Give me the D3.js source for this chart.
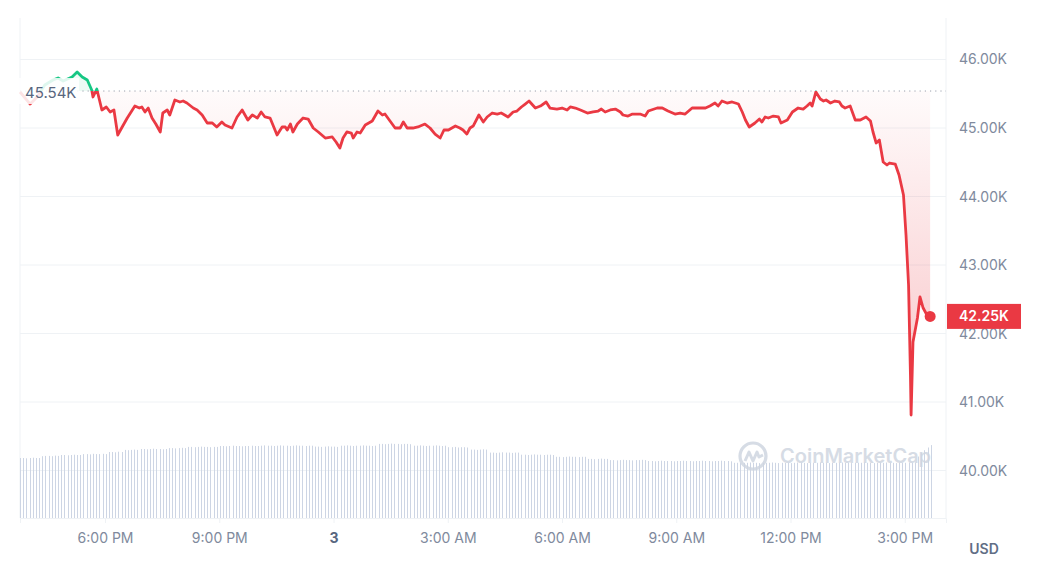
<!DOCTYPE html>
<html>
<head>
<meta charset="utf-8">
<script src="https://cdn.jsdelivr.net/npm/d3@7/dist/d3.min.js"></script>
<style>
  body { margin: 0; background: #fff; }
  svg text { font-family: Inter, "Noto Sans", sans-serif; }
</style>
</head>
<body>
<div id="my_dataviz"></div>
<script>
// price samples: minutes after 3:46 PM (Jan 2) and price in USD
var priceMinutes = [
  0, 16, 27, 39, 52, 60, 68, 82, 90, 98,
  106, 113, 115, 121, 129, 136, 142, 148, 154, 161,
  169, 177, 181, 188, 192, 197, 202, 208, 214, 221,
  225, 232, 236, 244, 252, 257, 263, 273, 279, 287,
  295, 303, 310, 318, 323, 334, 342, 350, 359, 366,
  374, 380, 386, 394, 405, 413, 418, 421, 426, 430,
  437, 446, 454, 462, 470, 481, 492, 498, 504, 509,
  515, 522, 525, 531, 536, 544, 555, 564, 571, 575,
  583, 591, 599, 604, 610, 619, 627, 638, 646, 654,
  662, 668, 675, 686, 693, 698, 704, 709, 714, 723,
  730, 736, 744, 752, 758, 761, 769, 777, 783, 790,
  796, 802, 812, 820, 829, 835, 846, 854, 862, 867,
  875, 883, 894, 903, 911, 916, 922, 930, 938, 946,
  950, 958, 965, 977, 985, 990, 1004, 1012, 1021, 1032,
  1040, 1048, 1059, 1069, 1080, 1087, 1095, 1100, 1106, 1114,
  1122, 1132, 1138, 1143, 1149, 1158, 1165, 1169, 1174, 1179,
  1187, 1195, 1199, 1209, 1217, 1226, 1234, 1240, 1245, 1248,
  1254, 1261, 1266, 1270, 1277, 1284, 1291, 1295, 1300, 1308,
  1316, 1324, 1333, 1340, 1344, 1349, 1354, 1360, 1366, 1370,
  1379, 1385, 1392, 1396, 1400, 1403, 1404, 1407, 1414, 1418,
  1423, 1429, 1434
];
var prices = [
  45526, 45350, 45453, 45628, 45701, 45730, 45686, 45745, 45818, 45745,
  45701, 45555, 45453, 45569, 45263, 45307, 45234, 45263, 44898, 45015,
  45146, 45263, 45321, 45292, 45307, 45234, 45292, 45146, 45058, 44942,
  45219, 45263, 45190, 45409, 45380, 45394, 45365, 45292, 45263, 45190,
  45073, 45073, 45015, 45088, 45044, 45000, 45161, 45263, 45117, 45190,
  45146, 45234, 45161, 45146, 44898, 45015, 45015, 44971, 45058, 44942,
  45058, 45146, 45131, 45000, 44942, 44854, 44869, 44796, 44708, 44854,
  44942, 44927, 44854, 44942, 44927, 45044, 45102, 45248, 45190, 45204,
  45102, 45000, 45000, 45088, 45000, 45000, 45015, 45058, 45000, 44912,
  44854, 44971, 44971, 45029, 45000, 44971, 44912, 45000, 45029, 45190,
  45088, 45161, 45219, 45204, 45219, 45204, 45161, 45234, 45248, 45307,
  45350, 45394, 45292, 45321, 45380, 45292, 45277, 45292, 45263, 45307,
  45292, 45263, 45219, 45234, 45248, 45277, 45234, 45263, 45277, 45234,
  45190, 45175, 45204, 45204, 45175, 45248, 45292, 45292, 45248, 45204,
  45219, 45204, 45292, 45292, 45292, 45321, 45365, 45321, 45394, 45365,
  45380, 45350, 45234, 45117, 45015, 45073, 45131, 45088, 45161, 45146,
  45175, 45161, 45073, 45117, 45234, 45292, 45277, 45321, 45365, 45321,
  45526, 45423, 45394, 45409, 45365, 45394, 45380, 45321, 45292, 45321,
  45117, 45117, 45161, 45102, 44942, 44781, 44825, 44504, 44460, 44489,
  44474, 44314, 44022, 43438, 42708, 41394, 40810, 41876, 42226, 42533,
  42372, 42270, 42250
];
// 24h volume (billion USD), one bar every 5 minutes from 3:46 PM
var volumes = [
  20.0, 20.0, 19.9, 20.0, 20.1, 20.0, 20.0, 20.6, 20.7, 20.7, 20.6, 20.8,
  20.7, 21.0, 21.0, 20.9, 21.0, 21.1, 21.0, 21.0, 21.3, 21.3, 21.2, 21.4,
  21.3, 21.3, 21.4, 21.3, 22.0, 22.0, 21.9, 22.1, 22.0, 22.7, 22.6, 22.7,
  22.8, 22.7, 23.0, 23.0, 22.9, 23.0, 23.1, 23.0, 23.0, 22.9, 23.0, 23.3,
  23.3, 23.2, 23.3, 23.4, 23.3, 23.7, 23.7, 23.6, 23.7, 23.8, 23.7, 23.7,
  23.6, 23.7, 23.7, 24.0, 24.0, 23.9, 24.0, 24.1, 24.0, 24.0, 23.9, 24.0,
  24.0, 24.1, 24.0, 24.0, 24.1, 24.2, 24.1, 24.1, 24.0, 24.1, 24.2, 24.1,
  24.1, 24.0, 24.1, 24.2, 24.1, 24.1, 24.0, 24.1, 24.1, 23.8, 23.8, 23.7,
  23.8, 23.9, 23.8, 23.8, 23.7, 24.1, 24.1, 24.2, 24.1, 24.0, 24.1, 24.1,
  24.2, 24.1, 24.1, 24.0, 24.1, 24.7, 24.7, 24.6, 24.7, 24.8, 24.7, 24.7,
  24.6, 24.7, 24.7, 24.6, 24.1, 24.1, 24.2, 24.1, 24.0, 24.1, 24.1, 24.2,
  24.1, 24.0, 24.1, 23.6, 23.6, 23.7, 23.5, 23.6, 23.6, 23.5, 22.8, 22.8,
  22.7, 22.8, 22.9, 22.8, 21.8, 21.8, 21.7, 21.8, 21.9, 21.8, 21.8, 21.7,
  21.8, 21.8, 21.1, 21.1, 21.0, 21.1, 21.2, 21.1, 21.1, 21.0, 21.1, 21.1,
  21.0, 20.4, 20.4, 20.3, 20.4, 20.5, 20.4, 20.4, 20.3, 20.4, 20.4, 19.7,
  19.7, 19.6, 19.7, 19.8, 19.7, 19.7, 19.3, 19.3, 19.2, 19.3, 19.4, 19.3,
  19.3, 19.2, 19.3, 19.3, 19.4, 19.3, 19.0, 19.0, 18.9, 19.0, 19.1, 19.0,
  19.0, 19.0, 18.9, 19.0, 19.0, 19.1, 19.0, 19.0, 18.9, 19.0, 19.0, 19.1,
  19.0, 19.0, 18.9, 19.0, 19.0, 19.1, 19.0, 19.0, 18.9, 18.4, 18.4, 18.3,
  18.4, 18.4, 18.5, 18.4, 18.4, 18.3, 18.4, 18.4, 18.4, 18.5, 18.4, 18.3,
  18.4, 18.4, 18.4, 18.3, 18.4, 18.5, 18.4, 18.4, 18.3, 18.4, 18.4, 18.4,
  18.5, 18.4, 18.4, 18.3, 18.4, 18.4, 18.4, 18.5, 18.4, 18.4, 18.3, 18.4,
  18.4, 18.4, 18.5, 18.4, 18.4, 18.3, 18.4, 18.4, 18.4, 18.5, 18.4, 18.4,
  18.3, 18.4, 18.4, 18.4, 18.5, 18.4, 18.4, 20.5, 21.7, 22.6, 23.5, 24.3
];
var yTicks = [40000, 41000, 42000, 43000, 44000, 45000, 46000];
var openPrice = 45540;
var lastPrice = 42250;

var startTime = new Date(2024, 0, 2, 15, 46);
var endTime = new Date(2024, 0, 3, 16, 5);

var width = 1038, height = 570;
var plot = { left: 20, right: 946, top: 18, bottom: 518 };

var red = "#ea3943", green = "#16c784", gridColor = "#eff2f5", labelColor = "#808a9d";

var svg = d3.select("#my_dataviz")
  .append("svg")
  .attr("width", width)
  .attr("height", height);

var x = d3.scaleTime()
  .domain([startTime, endTime])
  .range([plot.left, plot.right]);

var y = d3.scaleLinear()
  .domain([39307, 46606])
  .range([plot.bottom, plot.top]);

// volume uses its own scale on the bottom band
var yVol = d3.scaleLinear()
  .domain([0, 40])
  .range([plot.bottom, plot.bottom - 120]);

var data = priceMinutes.map(function (m, i) {
  return { date: d3.timeMinute.offset(startTime, m), value: prices[i] };
});
var volData = volumes.map(function (v, i) {
  return { date: d3.timeMinute.offset(startTime, i * 5), value: v };
});

var yBase = y(openPrice);

// gradients
var defs = svg.append("defs");
var strokeGrad = defs.append("linearGradient")
  .attr("id", "strokeGrad")
  .attr("gradientUnits", "userSpaceOnUse")
  .attr("x1", 0).attr("x2", 0)
  .attr("y1", 0).attr("y2", height);
strokeGrad.append("stop").attr("offset", yBase / height).attr("stop-color", green);
strokeGrad.append("stop").attr("offset", yBase / height).attr("stop-color", red);

var redFill = defs.append("linearGradient")
  .attr("id", "redFill")
  .attr("gradientUnits", "userSpaceOnUse")
  .attr("x1", 0).attr("x2", 0)
  .attr("y1", yBase).attr("y2", y(d3.min(prices)));
redFill.append("stop").attr("offset", 0).attr("stop-color", red).attr("stop-opacity", 0.02);
redFill.append("stop").attr("offset", 1).attr("stop-color", red).attr("stop-opacity", 0.3);

defs.append("clipPath").attr("id", "clipBelow")
  .append("rect")
  .attr("x", plot.left).attr("y", yBase)
  .attr("width", plot.right - plot.left).attr("height", plot.bottom - yBase);
defs.append("clipPath").attr("id", "clipAbove")
  .append("rect")
  .attr("x", plot.left).attr("y", plot.top)
  .attr("width", plot.right - plot.left).attr("height", yBase - plot.top);

// horizontal grid lines
svg.append("g")
  .selectAll("line")
  .data(yTicks)
  .enter()
  .append("line")
  .attr("x1", plot.left)
  .attr("x2", plot.right)
  .attr("y1", function (d) { return y(d) })
  .attr("y2", function (d) { return y(d) })
  .attr("stroke", gridColor)
  .attr("stroke-width", 1);

// frame lines
svg.append("line")
  .attr("x1", plot.left).attr("x2", plot.left)
  .attr("y1", plot.top).attr("y2", plot.bottom)
  .attr("stroke", gridColor);
svg.append("line")
  .attr("x1", plot.right).attr("x2", plot.right)
  .attr("y1", plot.top).attr("y2", plot.bottom)
  .attr("stroke", gridColor);

// volume bars
svg.append("g")
  .selectAll("line")
  .data(volData)
  .enter()
  .append("line")
  .attr("x1", function (d) { return Math.round(x(d.date)) + 0.5 })
  .attr("x2", function (d) { return Math.round(x(d.date)) + 0.5 })
  .attr("y1", plot.bottom)
  .attr("y2", function (d) { return yVol(d.value) })
  .attr("stroke", "#cdd5e4")
  .attr("stroke-width", 1);

// watermark
var wm = svg.append("g")
  .attr("transform", "translate(753,456)")
  .attr("opacity", 0.85);
wm.append("circle")
  .attr("r", 13)
  .attr("fill", "none")
  .attr("stroke", "#cfd6e1")
  .attr("stroke-width", 3.2);
wm.append("path")
  .attr("d", "M-8,5 L-4,-4 L0,5 L4,-4 L6,1 L10,-1")
  .attr("fill", "none")
  .attr("stroke", "#cfd6e1")
  .attr("stroke-width", 3)
  .attr("stroke-linejoin", "round");
wm.append("text")
  .attr("x", 27)
  .attr("y", 7)
  .attr("fill", "#cfd6e1")
  .style("font-size", "20px")
  .style("font-weight", 600)
  .text("CoinMarketCap");

// area between price and open price
var area = d3.area()
  .x(function (d) { return x(d.date) })
  .y0(yBase)
  .y1(function (d) { return y(d.value) });
svg.append("path")
  .attr("d", area(data))
  .attr("clip-path", "url(#clipBelow)")
  .attr("fill", "url(#redFill)");
svg.append("path")
  .attr("d", area(data))
  .attr("clip-path", "url(#clipAbove)")
  .attr("fill", green)
  .attr("fill-opacity", 0.08);

// dotted open price line
svg.append("line")
  .attr("x1", plot.left)
  .attr("x2", plot.right)
  .attr("y1", yBase)
  .attr("y2", yBase)
  .attr("stroke", "#9aa1ad")
  .attr("stroke-width", 1)
  .attr("stroke-dasharray", "1.2,4");

// price line
var line = d3.line()
  .x(function (d) { return x(d.date) })
  .y(function (d) { return y(d.value) });
svg.append("path")
  .attr("d", line(data))
  .attr("fill", "none")
  .attr("stroke", "url(#strokeGrad)")
  .attr("stroke-width", 2.8)
  .attr("stroke-linejoin", "round");

// open price label (covers start of line)
svg.append("rect")
  .attr("x", plot.left - 3)
  .attr("y", yBase - 13)
  .attr("width", 62)
  .attr("height", 26)
  .attr("fill", "#fff")
  .attr("fill-opacity", 0.86);
svg.append("text")
  .attr("x", plot.left + 5)
  .attr("y", yBase + 2)
  .attr("dy", "0.35em")
  .attr("fill", "#58667e")
  .style("font-size", "15px")
  .text(d3.format(".2f")(openPrice / 1000) + "K");

// last point
var last = data[data.length - 1];
svg.append("circle")
  .attr("cx", x(last.date))
  .attr("cy", y(last.value))
  .attr("r", 5.5)
  .attr("fill", red);

// y axis labels
var yAxis = svg.append("g")
  .attr("transform", "translate(" + plot.right + ",0)")
  .call(d3.axisRight(y)
    .tickValues(yTicks)
    .tickSize(0)
    .tickPadding(13)
    .tickFormat(function (d) { return d3.format(".2f")(d / 1000) + "K" }));
yAxis.select(".domain").remove();
yAxis.selectAll("text")
  .attr("fill", labelColor)
  .style("font-size", "14px");

// last price tag
svg.append("rect")
  .attr("x", plot.right + 1)
  .attr("y", y(lastPrice) - 12.5)
  .attr("width", 74)
  .attr("height", 25)
  .attr("fill", red);
svg.append("text")
  .attr("x", plot.right + 38)
  .attr("y", y(lastPrice))
  .attr("dy", "0.35em")
  .attr("text-anchor", "middle")
  .attr("fill", "#fff")
  .style("font-size", "14px")
  .style("font-weight", 600)
  .text(d3.format(".2f")(lastPrice / 1000) + "K");

// x axis
var xAxis = svg.append("g")
  .attr("transform", "translate(0," + plot.bottom + ")")
  .call(d3.axisBottom(x)
    .ticks(d3.timeHour.every(3))
    .tickSize(5)
    .tickPadding(10)
    .tickFormat(function (d) {
      return d.getHours() === 0 ? d3.timeFormat("%-d")(d) : d3.timeFormat("%-I:%M %p")(d);
    }));
xAxis.select(".domain").attr("stroke", gridColor);
xAxis.selectAll(".tick line").attr("stroke", gridColor);
xAxis.selectAll("text")
  .attr("fill", labelColor)
  .style("font-size", "14px")
  .style("font-weight", function (d) { return d.getHours() === 0 ? 700 : 400 })
  .attr("fill", function (d) { return d.getHours() === 0 ? "#58667e" : labelColor });

// currency label
svg.append("text")
  .attr("x", 984)
  .attr("y", 549)
  .attr("dy", "0.35em")
  .attr("text-anchor", "middle")
  .attr("fill", "#616e85")
  .style("font-size", "14px")
  .style("font-weight", 600)
  .text("USD");
</script>
</body>
</html>
